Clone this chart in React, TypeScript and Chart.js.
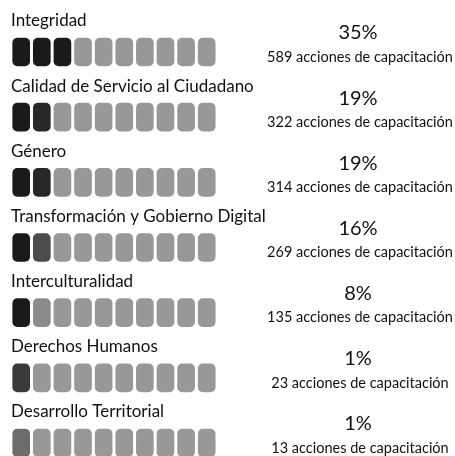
import React, { useEffect, useRef } from "react";
import { Chart, registerables } from "chart.js";

Chart.register(...registerables);

const categories = [
  "Integridad",
  "Calidad de Servicio al Ciudadano",
  "Género",
  "Transformación y Gobierno Digital",
  "Interculturalidad",
  "Derechos Humanos",
  "Desarrollo Territorial",
];
const percentLabels = ["35%", "19%", "19%", "16%", "8%", "1%", "1%"];
const acciones = [589, 322, 314, 269, 135, 23, 13];
// number of dark cells (out of 10), fractional = partly dark
const darkCells = [3, 1.9, 1.9, 1.6, 1.1, 0.75, 0.35];
const cellCount = 10;

const DARK = [26, 26, 26];
const LIGHT = [152, 152, 152];

function shade(frac: number) {
  const f = Math.max(0, Math.min(1, frac));
  const c = LIGHT.map((l, i) => Math.round(l + (DARK[i] - l) * f));
  return `rgb(${c[0]},${c[1]},${c[2]})`;
}

const textPlugin = {
  id: "pictoText",
  afterDatasetsDraw(chart: any) {
    const { ctx, scales } = chart;
    const y = scales.y;
    ctx.save();
    ctx.fillStyle = "#111111";
    ctx.textBaseline = "middle";
    categories.forEach((cat, i) => {
      const cy = y.getPixelForValue(i);
      ctx.font = "17px Lato";
      ctx.textAlign = "left";
      ctx.fillText(cat, 11, cy - 31);
      ctx.textAlign = "center";
      ctx.font = "20px Lato";
      ctx.fillText(percentLabels[i], 358, cy - 19);
      ctx.font = "14.5px Lato";
      ctx.fillText(`${acciones[i]} acciones de capacitación`, 360, cy + 5);
    });
    ctx.restore();
  },
};

export default function App() {
  const ref = useRef<HTMLCanvasElement | null>(null);
  useEffect(() => {
    if (!ref.current) return;
    const gap = 0.0875;
    const datasets = Array.from({ length: cellCount }, (_, j) => ({
      label: `cell ${j + 1}`,
      data: categories.map(() => [j + gap, j + 1 - gap]),
      backgroundColor: darkCells.map((d) => shade(d - j)),
      borderRadius: 5,
      borderSkipped: false,
      barThickness: 28,
      grouped: false,
      clip: false as any,
    }));
    const chart = new Chart(ref.current, {
      type: "bar",
      data: { labels: categories, datasets: datasets as any },
      options: {
        indexAxis: "y",
        animation: false,
        responsive: false,
        layout: { padding: { left: 10.9, right: 238, top: 52, bottom: 13 } },
        plugins: { legend: { display: false }, tooltip: { enabled: false } },
        scales: {
          x: { type: "linear", min: 0, max: cellCount, display: false },
          y: { type: "category", offset: false, display: false },
        },
      },
      plugins: [textPlugin],
    });
    return () => chart.destroy();
  }, []);
  return (
    <div style={{ position: "fixed", left: 0, top: 0, width: 455, height: 456, background: "#fff" }}>
      <canvas ref={ref} width={455} height={456} />
    </div>
  );
}
